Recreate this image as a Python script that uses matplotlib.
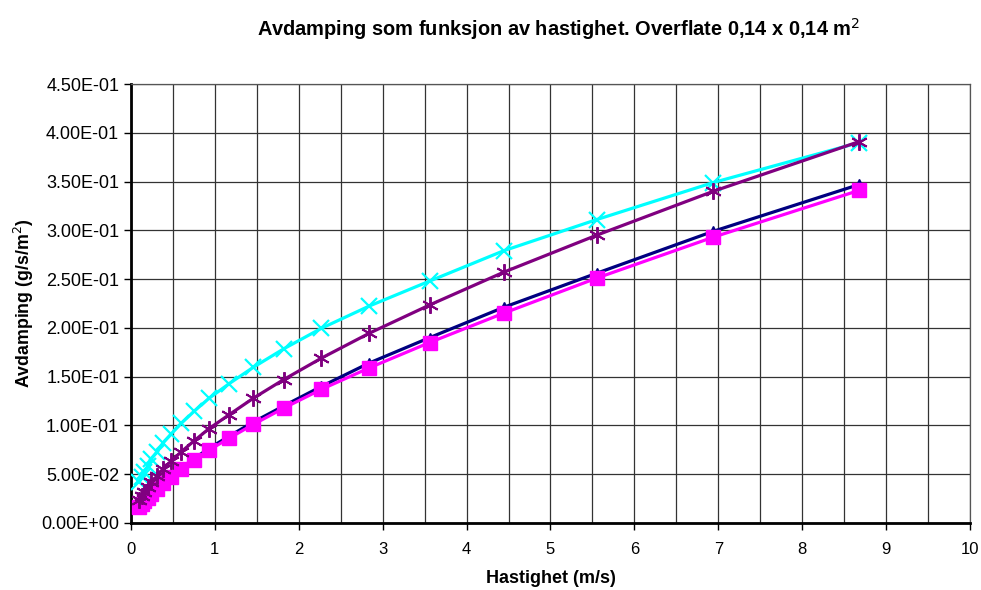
import matplotlib
matplotlib.use('Agg')
from matplotlib import pyplot as plt
from matplotlib.ticker import MultipleLocator, FuncFormatter

plt.rcParams['font.family'] = ['Liberation Sans', 'DejaVu Sans']

# hastighet (m/s)
v = [8.68, 6.94, 5.55, 4.44, 3.56, 2.84, 2.27, 1.82, 1.46, 1.17, 0.93,
     0.75, 0.60, 0.48, 0.38, 0.31, 0.24, 0.20, 0.16, 0.13, 0.10]

# avdamping (g/s/m2) for de fire seriene
s_navy = [0.347, 0.299, 0.256, 0.221, 0.190, 0.164, 0.140, 0.120, 0.1035, 0.089, 0.0765,
          0.0658, 0.0566, 0.0487, 0.0419, 0.0360, 0.0310, 0.0266, 0.0229, 0.0197, 0.0169]
s_magenta = [0.341, 0.293, 0.251, 0.215, 0.185, 0.159, 0.137, 0.1177, 0.1011, 0.0869, 0.0747,
             0.0642, 0.0552, 0.0474, 0.0408, 0.0350, 0.0301, 0.0259, 0.0222, 0.0191, 0.0164]
s_cyan = [0.390, 0.349, 0.311, 0.279, 0.248, 0.2224, 0.1996, 0.1785, 0.1597, 0.1428, 0.1278,
          0.1143, 0.1022, 0.0914, 0.0818, 0.0731, 0.0654, 0.0585, 0.0524, 0.0468, 0.0419]
s_purple = [0.391, 0.340, 0.295, 0.257, 0.2235, 0.1945, 0.169, 0.147, 0.128, 0.111, 0.0967,
            0.084, 0.073, 0.0636, 0.0553, 0.048, 0.0418, 0.0364, 0.0316, 0.0275, 0.024]

fig = plt.figure(figsize=(9.81, 5.90), dpi=100)
ax = fig.add_axes([0.1335, 0.1136, 0.8553, 0.744])

ax.plot(v, s_navy, color='#000080', lw=2.3, marker='^', ms=7.5, zorder=3)
ax.plot(v, s_magenta, color='#FF00FF', lw=2.3, marker='s', ms=9.5, zorder=4)
ax.plot(v, s_cyan, color='#00FFFF', lw=2.3, marker='x', ms=11, mew=1.6, zorder=5)
ax.plot(v, s_purple, color='#800080', lw=2.3, marker=(6, 2, 0), ms=12, mew=1.4, zorder=6)

ax.set_xlim(0, 10)
ax.set_ylim(0, 0.45)
ax.xaxis.set_major_locator(MultipleLocator(1))
ax.xaxis.set_minor_locator(MultipleLocator(0.5))
ax.yaxis.set_major_locator(MultipleLocator(0.05))
ax.yaxis.set_major_formatter(FuncFormatter(lambda y, pos: '%.2E' % y))

ax.grid(True, which='both', color='#333333', lw=0.9)
ax.set_axisbelow(True)
ax.tick_params(which='major', direction='out', length=5, width=1, labelsize=12)
ax.tick_params(axis='y', labelsize=13)
ax.tick_params(axis='x', which='minor', length=0)
ax.tick_params(axis='x', pad=9)

for side in ['left', 'bottom']:
    ax.spines[side].set_linewidth(2)
for side in ['top', 'right']:
    ax.spines[side].set_linewidth(0.9)
    ax.spines[side].set_color('#555555')

ax.set_xlabel('Hastighet (m/s)', fontsize=13, fontweight='bold', labelpad=9)
ax.set_ylabel('Avdamping (g/s/m$^2$)', fontsize=12.8, fontweight='bold', labelpad=4)
fig.text(0.569, 0.95, 'Avdamping som funksjon av hastighet. Overflate 0,14 x 0,14 m$^2$',
         ha='center', va='center', fontsize=14.4, fontweight='bold')

plt.savefig('out.png', dpi=100)
